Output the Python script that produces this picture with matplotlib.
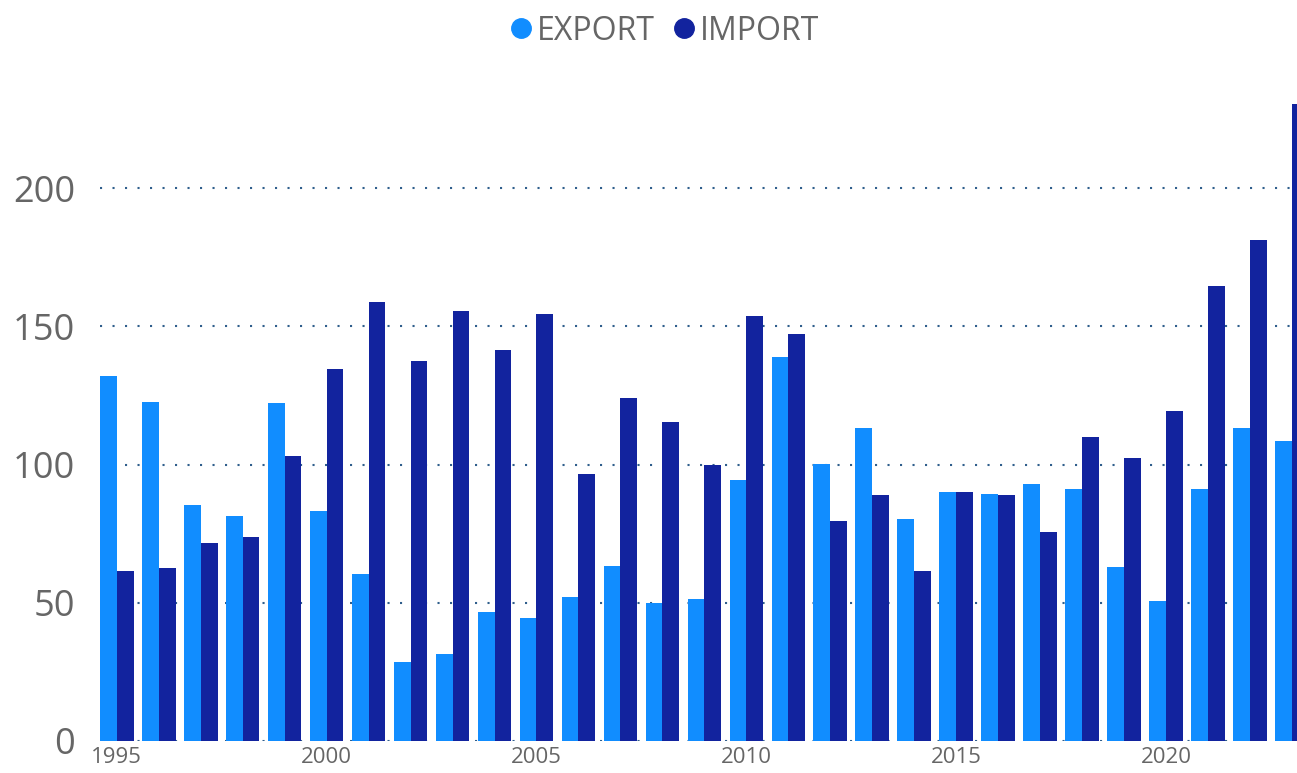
import matplotlib
matplotlib.use("Agg")
import matplotlib.pyplot as plt
from matplotlib.lines import Line2D
import numpy as np

years = list(range(1995, 2024))
export = [132.0, 122.6, 85.4, 81.4, 122.2, 83.2, 60.4, 28.6, 31.5, 46.7,
          44.5, 52.1, 63.3, 49.9, 51.4, 94.4, 138.9, 100.2, 113.2, 80.3,
          90.1, 89.3, 92.9, 91.1, 62.9, 50.6, 91.1, 113.2, 108.5]
imports = [61.5, 62.6, 71.6, 73.8, 103.1, 134.5, 158.8, 137.4, 155.5, 141.4,
           154.4, 96.6, 124.1, 115.4, 99.8, 153.7, 147.2, 79.6, 89.0, 61.5,
           90.1, 89.0, 75.6, 109.9, 102.4, 119.3, 164.6, 181.2, 230.4]
yticks = [0, 50, 100, 150, 200]
xticks = [1995, 2000, 2005, 2010, 2015, 2020]
series_names = ["EXPORT", "IMPORT"]

c_exp = "#118DFF"
c_imp = "#12239E"
txt = "#666666"
grid_c = "#2F5E8C"

plt.rcParams['font.family'] = ['Open Sans', 'DejaVu Sans']

W, H = 1297, 773
fig = plt.figure(figsize=(W / 100, H / 100), dpi=100)
px_per_unit = 553 / 200
ylim_top = 240
ax = fig.add_axes([100 / W, (H - 741) / H, 1 - 100 / W, ylim_top * px_per_unit / H])

x = np.array(years, dtype=float)
bw = 0.4
ax.bar(x - bw / 2, export, width=bw, color=c_exp, zorder=3, linewidth=0)
ax.bar(x + bw / 2, imports, width=bw, color=c_imp, zorder=3, linewidth=0)

ax.set_xlim(1994.6, 2023.12)
ax.set_ylim(0, ylim_top)
ax.set_yticks(yticks)
ax.set_xticks(xticks)
ax.set_xticklabels([str(v) for v in xticks])
ax.tick_params(axis='y', length=0, pad=18, labelsize=26, labelcolor=txt)
ax.tick_params(axis='x', length=0, pad=4, labelsize=16, labelcolor=txt)
for s in ax.spines.values():
    s.set_visible(False)
for yv in yticks:
    ax.axhline(yv, color=grid_c, linestyle=(0, (1, 5)), linewidth=1.5, zorder=1)

handles = [Line2D([], [], marker='o', linestyle='none', markersize=14,
                  markerfacecolor=c, markeredgecolor=c) for c in (c_exp, c_imp)]
fig.legend(handles, series_names, loc='center', bbox_to_anchor=(664 / W, 1 - 31 / H),
           ncol=2, frameon=False, fontsize=23, labelcolor=txt,
           handletextpad=0.1, columnspacing=0.5, handlelength=0.8)

fig.savefig("out.png", dpi=100)
